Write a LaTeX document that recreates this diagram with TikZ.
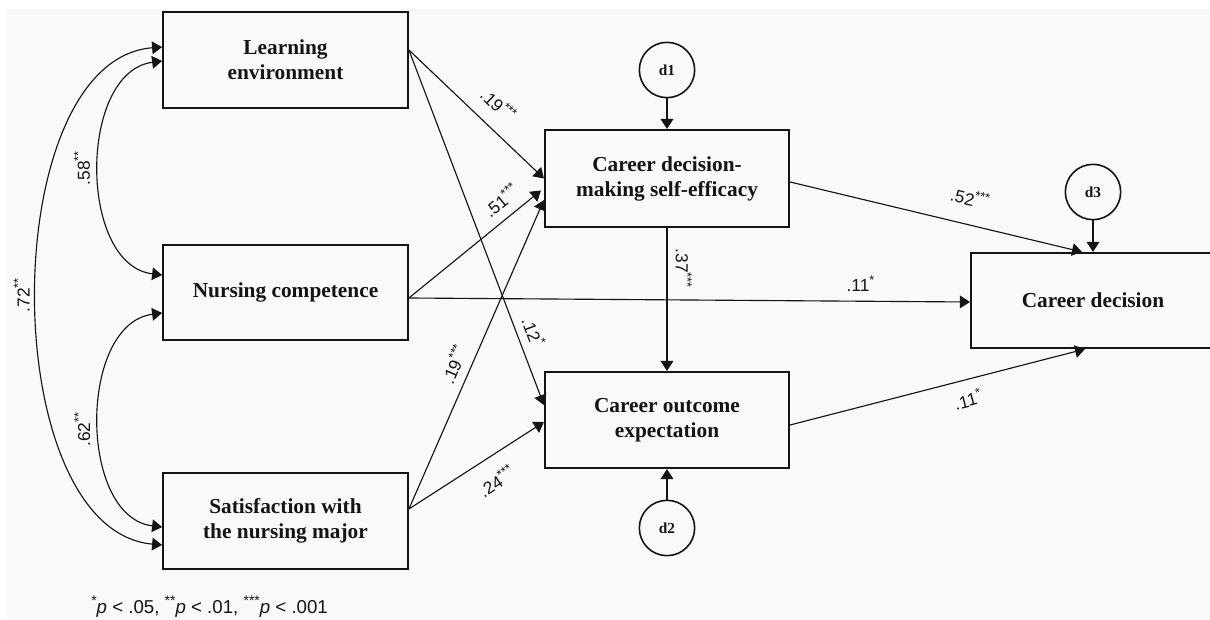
\documentclass[tikz,border=0pt]{standalone}
\usepackage{fontspec}
\setmainfont{Liberation Serif}
\newfontfamily\labelfont{Liberation Sans}
\usetikzlibrary{arrows.meta,calc}
\definecolor{bgc}{RGB}{249,249,249}
\definecolor{ink}{RGB}{20,20,20}
\newcommand{\sig}[1]{\raisebox{0.42em}{\fontsize{9.5}{10}\selectfont #1}}
\newcommand{\fsig}[1]{\raisebox{0.42em}{\fontsize{10.5}{11}\selectfont #1}}
\begin{document}
\begin{tikzpicture}[x=0.75pt,y=-0.75pt,
  box/.style={draw=ink, line width=1.6pt, minimum width=183.5pt, minimum height=72pt,
    align=center, inner sep=0pt, text=ink, font=\bfseries\fontsize{16}{18.75}\selectfont},
  dist/.style={draw=ink, circle, line width=1.2pt, minimum size=41.5pt, inner sep=0pt,
    text=ink, font=\bfseries\fontsize{11.5}{13}\selectfont},
  arr/.style={draw=ink, line width=0.85pt, -{Triangle[length=7.5pt,width=9.5pt]}},
  darr/.style={draw=ink, line width=0.85pt, {Triangle[length=7.5pt,width=9.5pt]}-{Triangle[length=7.5pt,width=9.5pt]}},
  lab/.style={font=\labelfont\fontsize{13}{15}\selectfont, text=ink, inner xsep=0pt,
    text height=9.5pt, text depth=0pt},
  fnote/.style={font=\labelfont\fontsize{14}{16}\selectfont, text=ink, inner sep=0pt}
]
\useasboundingbox (0,0) rectangle (1210,620);
\clip (0,0) rectangle (1210,620);
\fill[white] (0,0) rectangle (1210,620);
\fill[bgc] (6,9) rectangle (1210,620);

% boxes
\node[box] (LE) at (285.5,60) {Learning\\environment};
\node[box, minimum height=71.25pt] (NC) at (285.5,292.5) {Nursing competence};
\node[box] (SAT) at (285.5,521) {Satisfaction with\\the nursing major};
\node[box, minimum width=183pt, minimum height=72.75pt] (DMSE) at (667,178.5) {Career decision-\\making self-efficacy};
\node[box, minimum width=183pt] (COE) at (667,420) {Career outcome\\expectation};
\node[box, minimum width=183pt, minimum height=71.25pt] (CD) at (1093,300.5) {Career decision};

% disturbances
\node[dist] (d1) at (667,70) {d1};
\node[dist] (d2) at (667,528) {d2};
\node[dist] (d3) at (1093,192) {d3};

\draw[arr] (d1) -- (DMSE.north);
\draw[arr] (d2) -- (COE.south);
\draw[arr] (d3) -- (CD.north);

% paths
\draw[arr] ($(LE.east)+(0,-10)$) -- node[lab, sloped, anchor=south, inner ysep=10.5pt, pos=0.55] {.19\sig{***}} (DMSE.west);
\draw[arr] ($(LE.east)+(0,-10)$) -- node[lab, sloped, anchor=south, inner ysep=6pt, pos=0.81] {.12\sig{*}} ($(COE.west)+(0,-15)$);
\draw[arr] ($(NC.east)+(0,5.5)$) -- node[lab, sloped, anchor=south, inner ysep=6.8pt, pos=0.78] {.51\sig{***}} ($(DMSE.west)+(-3,12)$);
\draw[arr] ($(NC.east)+(0,5.5)$) -- node[lab, anchor=south, inner ysep=7pt, pos=0.805] {.11\sig{*}} ($(CD.west)+(0,1.5)$);
\draw[arr] ($(SAT.east)+(0,-12)$) -- node[lab, sloped, anchor=south, inner ysep=6.5pt, pos=0.446] {.19\sig{***}} ($(DMSE.west)+(0,21.5)$);
\draw[arr] ($(SAT.east)+(0,-12)$) -- node[lab, sloped, anchor=north, inner ysep=14pt, pos=0.55] {.24\sig{***}} ($(COE.west)+(0,2)$);
\draw[arr] (DMSE.south) -- node[lab, rotate=-90, anchor=south, inner ysep=6.2pt, pos=0.28] {.37\sig{***}} (COE.north);
\draw[arr] ($(DMSE.east)+(0,3.5)$) -- node[lab, sloped, anchor=south, inner ysep=13.7pt, pos=0.595] {.52\sig{***}} ($(CD.north)+(-11,0)$);
\draw[arr] ($(COE.east)+(0,5)$) -- node[lab, sloped, anchor=north, inner ysep=10.4pt, pos=0.586] {.11\sig{*}} ($(CD.south)+(-8,0)$);

% correlations
\draw[darr] ($(LE.west)+(0,1)$) .. controls +(-84,11) and +(-84,-10) .. node[lab, rotate=90, anchor=south, inner ysep=6.5pt, pos=0.5] {.58\sig{**}} ($(NC.west)+(0,-17.5)$);
\draw[darr] ($(NC.west)+(0,20.5)$) .. controls +(-84,11) and +(-84,-10) .. node[lab, rotate=90, anchor=south, inner ysep=6.5pt, pos=0.53] {.62\sig{**}} ($(SAT.west)+(0,6)$);
\draw[darr] ($(LE.west)+(0,-13)$) .. controls +(-167,13) and +(-167,-15) .. node[lab, rotate=90, anchor=south, inner ysep=5pt, pos=0.5] {.72\sig{**}} ($(SAT.west)+(0,24)$);

% footnote
\node[fnote, anchor=west] (fn) at (91,607) {\fsig{*}\textit{p} < .05, \fsig{**}\textit{p} < .01, \fsig{***}\textit{p} < .001};
\end{tikzpicture}
\end{document}
